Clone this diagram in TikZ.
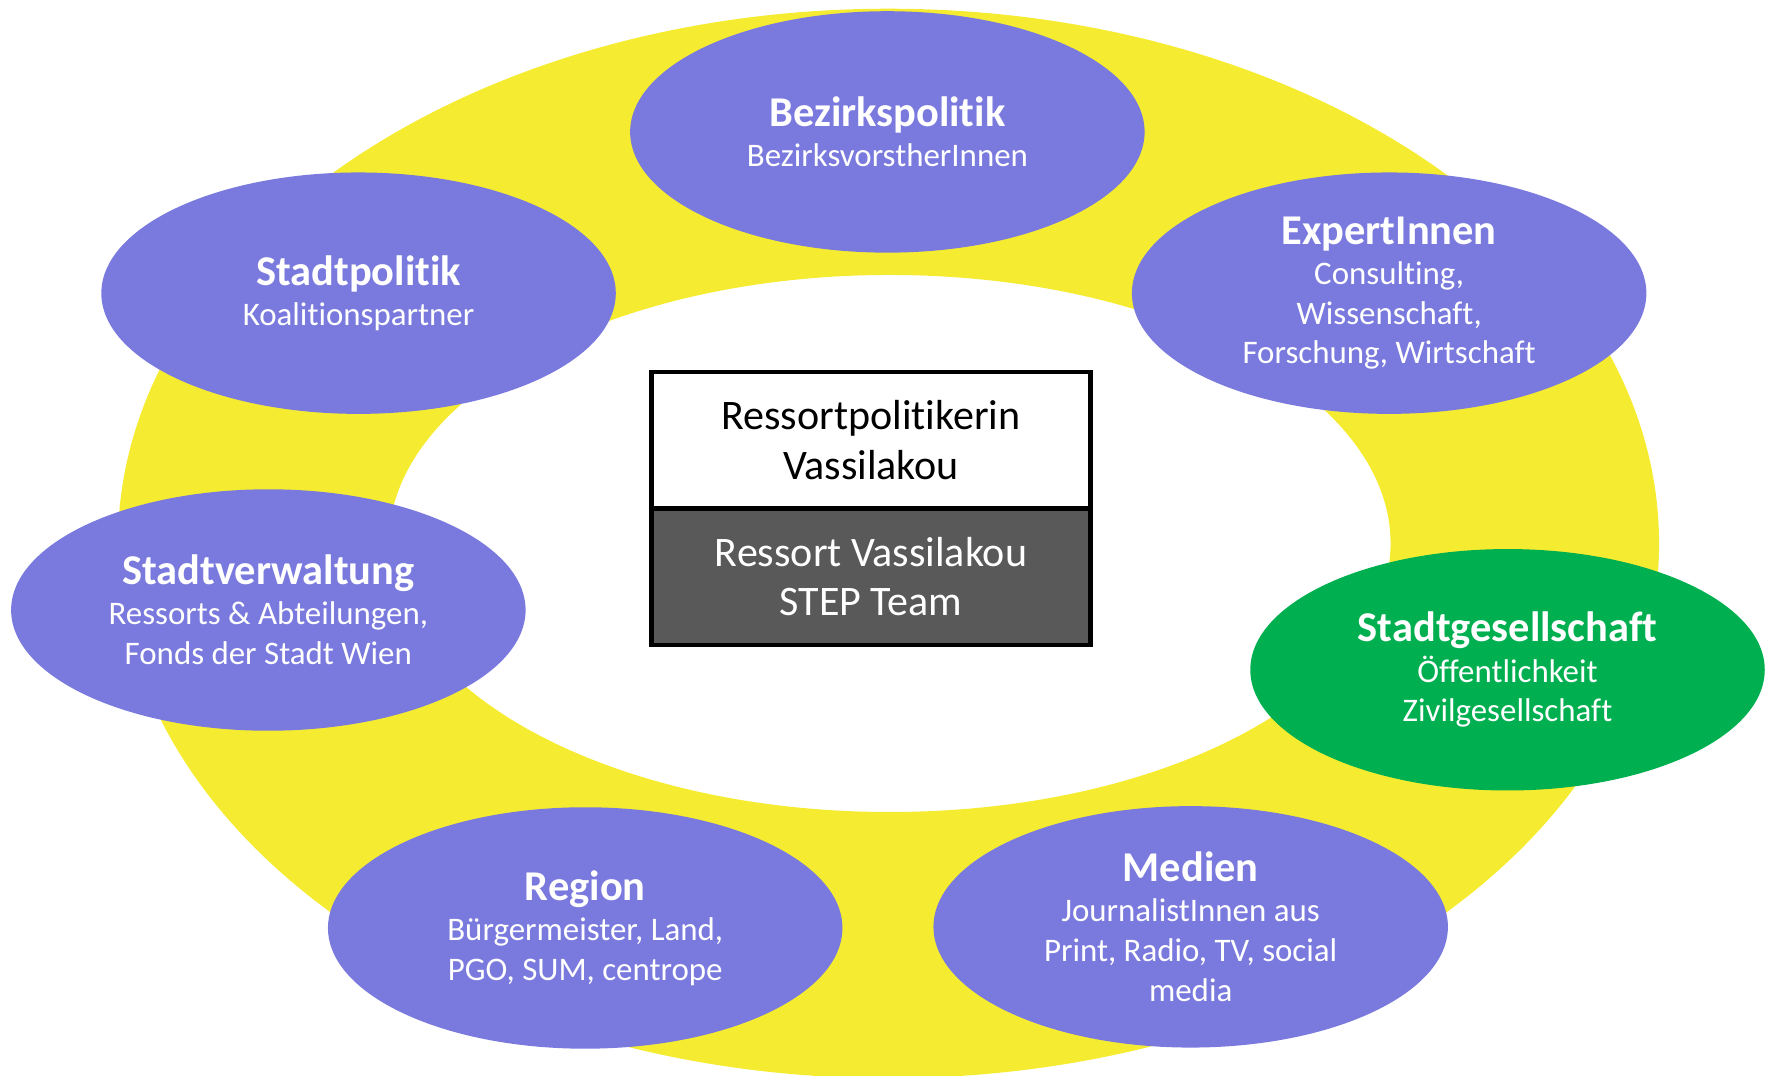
\documentclass[tikz,border=0pt]{standalone}
\usepackage{fontspec}
\setmainfont{Carlito}[Ligatures=NoCommon]
\usetikzlibrary{shapes.geometric}
\definecolor{purp}{RGB}{122,122,222}
\definecolor{grn}{RGB}{0,176,80}
\definecolor{yel}{RGB}{245,236,50}
\definecolor{dgrey}{RGB}{89,89,89}
\newcommand{\ttlf}[1]{{\bfseries\fontsize{10.7}{12}\selectfont #1}}
\tikzset{
  grp/.style={ellipse, fill=purp, minimum width=4.56cm, minimum height=2.14cm,
    inner sep=0pt, text=white, align=center, font=\fontsize{8.3}{10}\selectfont},
  grpg/.style={grp, fill=grn},
  cbox/.style={rectangle, draw=black, line width=1.2pt, minimum width=3.89cm,
    minimum height=1.21cm, inner sep=0pt, align=center,
    font=\fontsize{10.6}{12.5}\selectfont}
}
\begin{document}
\begin{tikzpicture}[x=0.01cm,y=-0.01cm]
\useasboundingbox (0,0) rectangle (1568,954);
% yellow ring
\fill[yel, even odd rule] (788,482) ellipse [x radius=6.83cm, y radius=4.74cm]
                          (789,482) ellipse [x radius=4.44cm, y radius=2.38cm];
% central box
\node[cbox, fill=white] (top) at (772.5,390.5) {Ressortpolitikerin\\Vassilakou};
\node[cbox, fill=dgrey, text=white] (bot) at (772.5,511.5) {Ressort Vassilakou\\STEP Team};
% groups
\node[grp] (bez) at (787,117) {\ttlf{Bezirkspolitik}\\[0.1pt]BezirksvorstherInnen};
\node[grp] (spol) at (318,260) {\ttlf{Stadtpolitik}\\[0.1pt]Koalitionspartner};
\node[grp] (exp) at (1232,260) {\ttlf{ExpertInnen}\\[0.1pt]Consulting,\\Wissenschaft,\\Forschung, Wirtschaft};
\node[grp] (sverw) at (238,541) {\ttlf{Stadtverwaltung}\\[0.1pt]Ressorts \& Abteilungen,\\Fonds der Stadt Wien};
\node[grpg] (sges) at (1337,594) {\ttlf{Stadtgesellschaft}\\[0.1pt]Öffentlichkeit\\Zivilgesellschaft};
\node[grp] (reg) at (519,823) {\ttlf{Region}\\[0.1pt]Bürgermeister, Land,\\PGO, SUM, centrope};
\node[grp] (med) at (1056,822) {\ttlf{Medien}\\[0.1pt]JournalistInnen aus\\Print, Radio, TV, social\\media};
\end{tikzpicture}
\end{document}
